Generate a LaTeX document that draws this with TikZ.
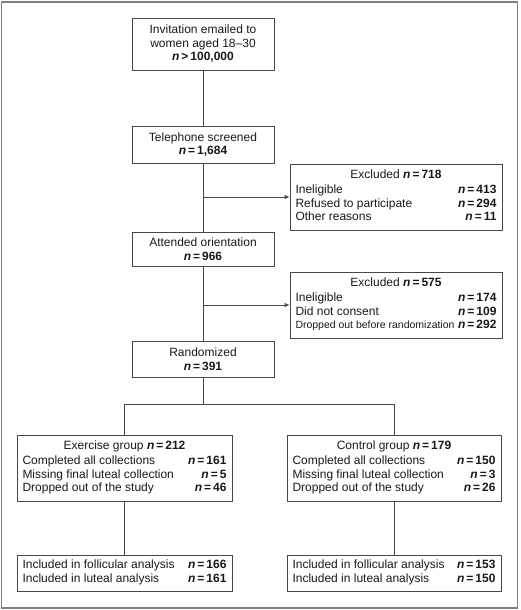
\documentclass[tikz,border=0pt]{standalone}
\usepackage{fontspec}
\setmainfont{Liberation Sans}
\usetikzlibrary{arrows.meta}
\newcommand{\nv}[1]{\textbf{\textit{n}\,=\,#1}}
\newcommand{\rows}[2]{\begin{tabular*}{#1}{@{}l@{\extracolsep{\fill}}r@{}}#2\end{tabular*}}
\begin{document}
\begin{tikzpicture}[x=1pt,y=-1pt,
  box/.style={draw=black!72, line width=0.8pt, inner sep=0pt, font=\fontsize{12}{13.5}\selectfont, align=center, text=black!90},
  ln/.style={draw=black!72, line width=0.8pt},
  arr/.style={ln, -{Latex[length=5pt,width=4.5pt]}}]
\useasboundingbox (0,0) rectangle (520,610);
\draw[black!50, line width=1.6pt] (1.5,2) rectangle (517.5,608);

\node[box, minimum width=142pt, minimum height=52pt] (inv) at (203,44)
  {Invitation emailed to\\women aged 18--30\\\textbf{\textit{n}\,>\,100,000}};
\node[box, minimum width=142pt, minimum height=37pt] (tel) at (203,144.5)
  {Telephone screened\\\nv{1,684}};
\node[box, minimum width=212pt, minimum height=66pt] (exa) at (396,197)
  {\rows{201pt}{\multicolumn{2}{c}{Excluded \nv{718}}\\[2pt]
   Ineligible & \nv{413}\\ Refused to participate & \nv{294}\\ Other reasons & \nv{11}}};
\node[box, minimum width=142pt, minimum height=34pt] (att) at (203,249)
  {Attended orientation\\\nv{966}};
\node[box, minimum width=212pt, minimum height=66pt] (exb) at (396,305)
  {\rows{201pt}{\multicolumn{2}{c}{Excluded \nv{575}}\\[2pt]
   Ineligible & \nv{174}\\ Did not consent & \nv{109}\\ \resizebox{159pt}{!}{Dropped out before randomization} & \nv{292}}};
\node[box, minimum width=142pt, minimum height=36pt] (rand) at (203,359)
  {Randomized\\\nv{391}};
\node[box, minimum width=215pt, minimum height=66pt] (ex) at (124.5,468)
  {\rows{204pt}{\multicolumn{2}{c}{Exercise group \nv{212}}\\[2pt]
   Completed all collections & \nv{161}\\ Missing final luteal collection & \nv{5}\\ Dropped out of the study & \nv{46}}};
\node[box, minimum width=214pt, minimum height=66pt] (ctl) at (394,468)
  {\rows{203pt}{\multicolumn{2}{c}{Control group \nv{179}}\\[2pt]
   Completed all collections & \nv{150}\\ Missing final luteal collection & \nv{3}\\ Dropped out of the study & \nv{26}}};
\node[box, minimum width=215pt, minimum height=36pt] (ia) at (124.5,573)
  {\rows{204pt}{Included in follicular analysis & \nv{166}\\ Included in luteal analysis & \nv{161}}};
\node[box, minimum width=214pt, minimum height=36pt] (ib) at (394,573)
  {\rows{203pt}{Included in follicular analysis & \nv{153}\\ Included in luteal analysis & \nv{150}}};

\draw[ln] (inv) -- (tel);
\draw[ln] (tel) -- (att);
\draw[ln] (att) -- (rand);
\draw[arr] (tel.south |- exa.west) -- (exa.west);
\draw[arr] (att.south |- exb.west) -- (exb.west);
\coordinate (br) at (203,404);
\draw[ln] (rand) -- (br);
\draw[ln] (ex) -- (ex.north |- br) -- (ctl.north |- br) -- (ctl);
\draw[ln] (ex) -- (ia);
\draw[ln] (ctl) -- (ib);
\end{tikzpicture}
\end{document}
